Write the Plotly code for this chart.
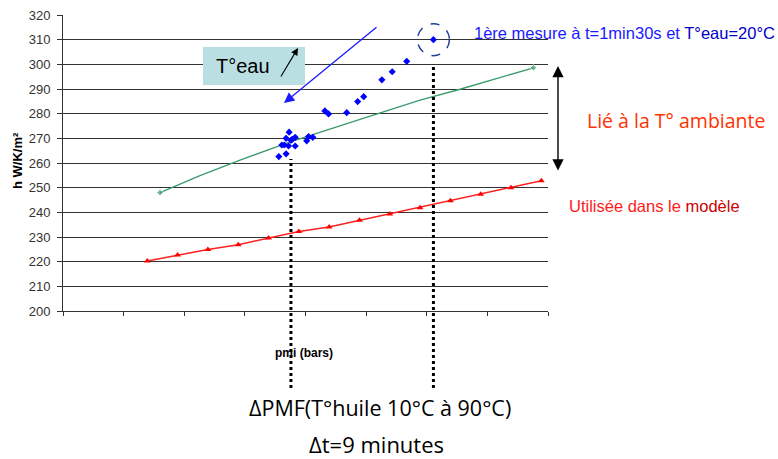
import plotly.graph_objects as go

# ---- data ----
red_x = [1.39, 1.89, 2.39, 2.89, 3.39, 3.89, 4.39, 4.89, 5.39, 5.89, 6.39, 6.89, 7.39, 7.89]
red_y = [220.3, 222.7, 224.9, 226.9, 229.6, 232.2, 234.1, 236.8, 239.3, 241.9, 244.7, 247.3, 250.0, 252.8]

green_x = [1.60, 2.26, 2.92, 3.75, 4.90, 5.89, 6.55, 7.76]
green_y = [248.0, 254.9, 261.2, 268.6, 277.7, 285.5, 289.9, 298.6]

blue_x = [3.56, 3.68, 3.61, 3.65, 3.72, 3.68, 3.73, 3.76, 3.78, 3.83, 3.83, 4.02, 4.05, 4.12,
          4.32, 4.38, 4.68, 4.86, 4.96, 5.26, 5.43, 5.67, 6.11]
blue_y = [262.6, 263.7, 267.3, 267.3, 266.9, 270.0, 272.5, 269.2, 269.6, 270.4, 266.9, 269.0, 270.7, 270.4,
          281.1, 279.9, 280.4, 284.9, 286.9, 293.7, 297.0, 301.2, 310.0]

y_ticks = [200, 210, 220, 230, 240, 250, 260, 270, 280, 290, 300, 310, 320]
x_ticks = [0, 1, 2, 3, 4, 5, 6, 7, 8]

vline_x = [3.76, 6.11]          # pmi cluster and first measure
circle_pt = (6.11, 310.0)

W, H = 778, 459
L, R, T, B = 63, 548, 15, 311


def xp(px):
    return (px - L) / (R - L)


def yp(py):
    return (B - py) / (B - T)


def arrow(tip, tail, **kw):
    d = dict(xref="paper", yref="paper", x=xp(tip[0]), y=yp(tip[1]),
             ax=tail[0] - tip[0], ay=tail[1] - tip[1], axref="pixel", ayref="pixel",
             text="", showarrow=True, arrowhead=2)
    d.update(kw)
    return d


def label(px, py, text, size, color="black", family="Arial, Liberation Sans", anchor="left", **kw):
    d = dict(xref="paper", yref="paper", x=xp(px), y=yp(py), xanchor=anchor, yanchor="middle",
             showarrow=False, text=text, font=dict(family=family, size=size, color=color))
    d.update(kw)
    return d


fig = go.Figure()

fig.add_trace(go.Scatter(
    x=green_x, y=green_y, mode="lines+markers",
    line=dict(color="#3a9a6a", width=1.3),
    marker=dict(symbol="diamond", size=[5, 0, 0, 0, 0, 0, 0, 5], color="#3a9a6a"),
    hoverinfo="skip"))

fig.add_trace(go.Scatter(
    x=red_x, y=red_y, mode="lines+markers",
    line=dict(color="#ff2020", width=1.5),
    marker=dict(symbol="triangle-up", size=6, color="#ff0000"),
    hoverinfo="skip"))

fig.add_trace(go.Scatter(
    x=blue_x, y=blue_y, mode="markers",
    marker=dict(symbol="diamond", size=5.5, color="#0000ff"),
    hoverinfo="skip"))

shapes = []
for vx, top in zip(vline_x, [159, 65]):
    shapes.append(dict(type="line", xref="x", yref="paper", x0=vx, x1=vx,
                       y0=yp(388), y1=yp(top),
                       line=dict(color="black", width=3, dash="dot"), layer="above"))
shapes.append(dict(type="circle", xref="x", yref="y", xsizemode="pixel", ysizemode="pixel",
                   xanchor=circle_pt[0], yanchor=circle_pt[1],
                   x0=-16, x1=16, y0=-16, y1=16,
                   line=dict(color="#1f3f99", width=1.5, dash="dash")))
shapes.append(dict(type="rect", xref="paper", yref="paper",
                   x0=xp(203), x1=xp(305), y0=yp(85), y1=yp(47),
                   fillcolor="#b9dfe3", line=dict(width=0), layer="above"))

annotations = [
    arrow((284, 103), (378, 26), arrowsize=1.6, arrowwidth=1.3, arrowcolor="#1a1aff"),
    label(214, 66, "T°eau", 20),
    arrow((298, 48), (280, 78), arrowsize=1.3, arrowwidth=1.1, arrowcolor="black"),
    arrow((558, 66), (558, 172), startarrowhead=2, arrowside="end+start",
          arrowsize=1.6, startarrowsize=1.6, arrowwidth=1.4, arrowcolor="black"),
    label(472, 33, "1ère mesure à t=1min30s et <span style='color:#0000c8'>T°eau=20°C</span>",
          16.5, color="#1a1aff"),
    label(585, 120, "Lié à la T° ambiante", 19.5, color="#ff3300", family="Open Sans"),
    label(567, 206, "Utilisée dans le <span style='color:#cc0000'>modèle</span>", 16.5, color="#ff1a1a"),
    label(380, 407, "ΔPMF(T°huile 10°C à 90°C)", 21.5, family="Open Sans", anchor="center"),
    label(376, 444, "Δt=9 minutes", 22, family="Open Sans", anchor="center"),
    label(304, 353, "<b>pmi (bars)</b>", 12, anchor="center"),
    label(17, 161, "<b>h W/K/m²</b>", 13, anchor="center", textangle=-90),
]

fig.update_layout(
    width=W, height=H,
    margin=dict(l=L, r=W - R, t=T, b=H - B, pad=0, autoexpand=False),
    paper_bgcolor="white", plot_bgcolor="white",
    showlegend=False,
    shapes=shapes, annotations=annotations,
    xaxis=dict(range=[0, 8], tickvals=x_ticks, showticklabels=False, automargin=False,
               ticks="outside", ticklen=4, tickcolor="#333", showgrid=False,
               showline=True, linecolor="#333", linewidth=1, zeroline=False, fixedrange=True),
    yaxis=dict(range=[200, 320], tickvals=y_ticks, ticktext=[str(v) for v in y_ticks],
               automargin=False, ticks="outside", ticklen=5, tickcolor="#333",
               ticklabelstandoff=4,
               showgrid=True, gridcolor="#333", gridwidth=1,
               showline=True, linecolor="#333", linewidth=1, zeroline=False,
               tickfont=dict(family="Arial, Liberation Sans", size=13, color="#333"),
               fixedrange=True),
)

fig.write_html("out.html", config={"displayModeBar": False},
               post_script="document.body.style.margin='0';document.body.style.overflow='hidden';")
